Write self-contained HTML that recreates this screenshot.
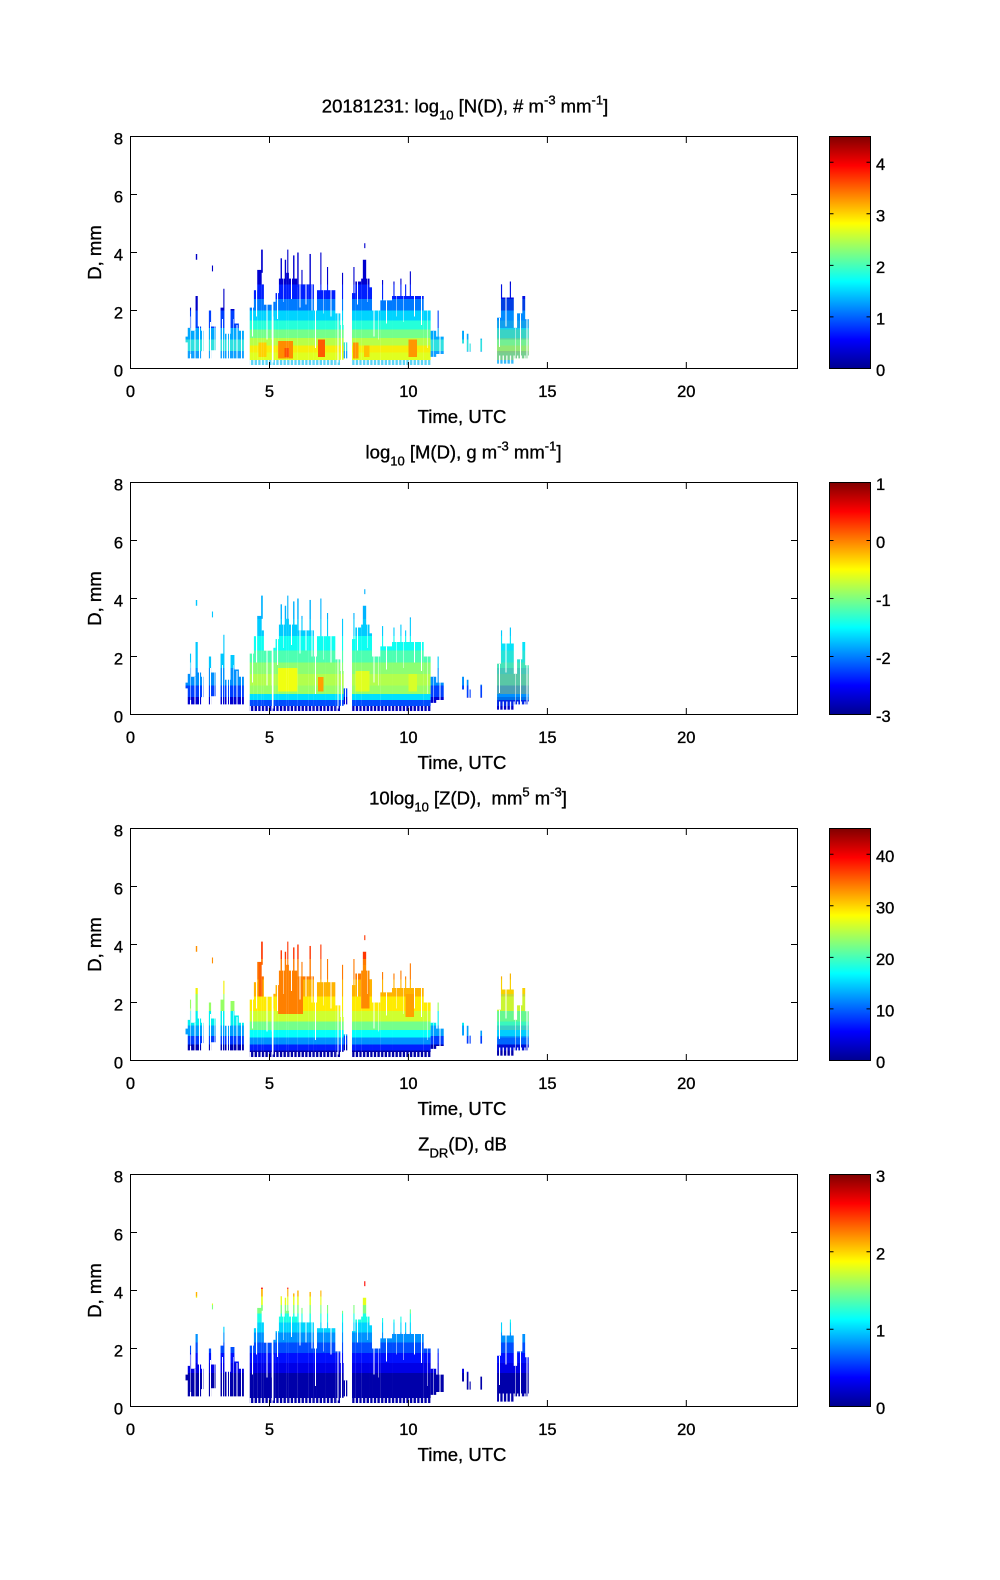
<!DOCTYPE html>
<html>
<head>
<meta charset="utf-8">
<style>
html,body{margin:0;padding:0;background:#fff;}
svg{display:block;}
text{font-family:"Liberation Sans",Arial,sans-serif;fill:#000;stroke:#000;stroke-width:0.35px;}
</style>
</head>
<body>
<svg xmlns="http://www.w3.org/2000/svg" width="1000" height="1580" viewBox="0 0 1000 1580">
<defs>
<linearGradient id="jet" x1="0" y1="1" x2="0" y2="0">
<stop offset="0" stop-color="#00008f"/>
<stop offset="0.125" stop-color="#0000ff"/>
<stop offset="0.375" stop-color="#00ffff"/>
<stop offset="0.625" stop-color="#ffff00"/>
<stop offset="0.875" stop-color="#ff0000"/>
<stop offset="1" stop-color="#800000"/>
</linearGradient>
<pattern id="stripes" patternUnits="userSpaceOnUse" x="0" y="0" width="0.13" height="8">
<rect x="0" y="0" width="0.045" height="8" fill="#fff"/>
</pattern>

<clipPath id="cb">
<rect x="4.29" y="5.9" width="0.15" height="1.98"/>
<rect x="4.44" y="5.3" width="0.12" height="2.58"/>
<rect x="4.56" y="4.6" width="0.16" height="3.28"/>
<rect x="4.70" y="3.9" width="0.06" height="0.8"/>
<rect x="4.72" y="5.1" width="0.08" height="2.78"/>
<rect x="4.80" y="5.8" width="0.28" height="2.08"/>
<rect x="5.08" y="7.0" width="0.06" height="0.88"/>
<rect x="5.14" y="5.7" width="0.08" height="2.18"/>
<rect x="5.22" y="5.4" width="0.12" height="2.48"/>
<rect x="5.34" y="4.9" width="0.26" height="2.98"/>
<rect x="5.40" y="4.2" width="0.05" height="0.8"/>
<rect x="5.55" y="4.25" width="0.05" height="0.75"/>
<rect x="5.60" y="4.7" width="0.10" height="3.18"/>
<rect x="5.64" y="3.9" width="0.04" height="0.9"/>
<rect x="5.70" y="4.9" width="0.30" height="2.98"/>
<rect x="5.85" y="4.1" width="0.05" height="0.9"/>
<rect x="6.00" y="5.1" width="0.40" height="2.78"/>
<rect x="6.00" y="4.0" width="0.05" height="1.2"/>
<rect x="6.15" y="4.6" width="0.04" height="0.6"/>
<rect x="6.40" y="5.1" width="0.20" height="2.78"/>
<rect x="6.44" y="4.05" width="0.05" height="1.15"/>
<rect x="6.60" y="6.0" width="0.11" height="1.88"/>
<rect x="6.71" y="5.3" width="0.29" height="2.58"/>
<rect x="6.83" y="4.0" width="0.04" height="1.4"/>
<rect x="7.00" y="5.3" width="0.37" height="2.58"/>
<rect x="7.07" y="4.5" width="0.04" height="0.9"/>
<rect x="7.37" y="6.1" width="0.18" height="1.78"/>
<rect x="7.55" y="6.5" width="0.12" height="1.2"/>
<rect x="7.61" y="4.7" width="0.04" height="1.9"/>
<rect x="7.97" y="5.4" width="0.12" height="2.48"/>
<rect x="8.02" y="4.5" width="0.04" height="1.0"/>
<rect x="8.09" y="5.0" width="0.21" height="2.88"/>
<rect x="8.30" y="4.9" width="0.30" height="2.98"/>
<rect x="8.36" y="4.25" width="0.12" height="0.75"/>
<rect x="8.41" y="3.68" width="0.04" height="0.17"/>
<rect x="8.60" y="5.2" width="0.09" height="2.68"/>
<rect x="8.69" y="6.0" width="0.30" height="1.88"/>
<rect x="8.99" y="5.65" width="0.42" height="2.23"/>
<rect x="9.05" y="4.95" width="0.04" height="0.75"/>
<rect x="9.41" y="5.5" width="1.14" height="2.38"/>
<rect x="9.46" y="5.0" width="0.04" height="0.6"/>
<rect x="9.71" y="4.9" width="0.04" height="0.7"/>
<rect x="9.88" y="5.1" width="0.04" height="0.5"/>
<rect x="10.05" y="4.65" width="0.04" height="0.95"/>
<rect x="10.55" y="6.0" width="0.25" height="1.88"/>
</clipPath>

<clipPath id="cm">
<rect x="13.19" y="6.25" width="0.14" height="1.58"/>
<rect x="13.33" y="5.1" width="0.04" height="2.73"/>
<rect x="13.37" y="5.55" width="0.42" height="2.28"/>
<rect x="13.65" y="5.0" width="0.04" height="0.6"/>
<rect x="13.79" y="6.6" width="0.12" height="1.05"/>
<rect x="13.91" y="6.1" width="0.19" height="1.55"/>
<rect x="14.10" y="5.5" width="0.10" height="2.15"/>
<rect x="14.20" y="6.3" width="0.13" height="1.35"/>
</clipPath>

<clipPath id="cs">
<rect x="1.98" y="6.9" width="0.08" height="0.2"/>
<rect x="2.06" y="6.6" width="0.08" height="1.05"/>
<rect x="2.14" y="5.9" width="0.04" height="1.6"/>
<rect x="2.18" y="6.7" width="0.16" height="0.95"/>
<rect x="2.34" y="5.5" width="0.08" height="2.15"/>
<rect x="2.42" y="6.55" width="0.12" height="1.1"/>
<rect x="2.54" y="6.7" width="0.10" height="0.7"/>
<rect x="2.35" y="4.05" width="0.05" height="0.2"/>
<rect x="2.82" y="6.0" width="0.08" height="1.65"/>
<rect x="2.90" y="6.55" width="0.16" height="0.82"/>
<rect x="2.93" y="4.45" width="0.04" height="0.2"/>
<rect x="3.24" y="5.9" width="0.10" height="1.75"/>
<rect x="3.34" y="5.25" width="0.04" height="2.4"/>
<rect x="3.40" y="6.8" width="0.20" height="0.85"/>
<rect x="3.60" y="5.95" width="0.14" height="1.7"/>
<rect x="3.74" y="6.45" width="0.16" height="1.2"/>
<rect x="3.90" y="6.7" width="0.18" height="0.95"/>
<rect x="7.67" y="7.1" width="0.13" height="0.55"/>
<rect x="10.80" y="6.7" width="0.20" height="0.9"/>
<rect x="11.00" y="6.9" width="0.27" height="0.6"/>
<rect x="11.05" y="6.0" width="0.04" height="0.9"/>
<rect x="11.93" y="6.7" width="0.07" height="0.44"/>
<rect x="12.10" y="6.8" width="0.06" height="0.62"/>
<rect x="12.20" y="7.14" width="0.04" height="0.28"/>
<rect x="12.59" y="6.97" width="0.06" height="0.45"/>
</clipPath>

<g id="gaps" fill="#fff">
<rect x="4.29" y="7.7" width="6.6" height="0.2" fill="url(#stripes)"/>
<rect x="13.19" y="7.55" width="1.2" height="0.3" fill="url(#stripes)"/>
<rect x="2.15" y="6.2" width="0.03" height="1.5"/>
<rect x="2.30" y="6.7" width="0.03" height="1.0"/>
<rect x="2.47" y="6.5" width="0.03" height="1.2"/>
<rect x="2.58" y="6.6" width="0.04" height="1.1"/>
<rect x="2.86" y="6.4" width="0.03" height="1.3"/>
<rect x="3.00" y="6.5" width="0.03" height="1.2"/>
<rect x="3.30" y="6.3" width="0.03" height="1.4"/>
<rect x="3.46" y="6.7" width="0.04" height="1.0"/>
<rect x="3.55" y="6.7" width="0.03" height="1.0"/>
<rect x="3.68" y="6.3" width="0.03" height="1.4"/>
<rect x="3.82" y="6.5" width="0.03" height="1.2"/>
<rect x="3.97" y="6.6" width="0.04" height="1.1"/>
<rect x="4.38" y="5.9" width="0.03" height="1.0"/>
<rect x="4.52" y="5.3" width="0.03" height="0.9"/>
<rect x="4.90" y="5.8" width="0.03" height="1.2"/>
<rect x="5.10" y="6.2" width="0.05" height="1.6"/>
<rect x="5.27" y="5.4" width="0.03" height="0.9"/>
<rect x="5.48" y="4.9" width="0.03" height="0.8"/>
<rect x="5.78" y="4.9" width="0.03" height="0.7"/>
<rect x="6.08" y="5.1" width="0.03" height="0.8"/>
<rect x="6.30" y="5.1" width="0.03" height="0.7"/>
<rect x="6.52" y="5.1" width="0.03" height="0.9"/>
<rect x="6.63" y="6.0" width="0.05" height="1.3"/>
<rect x="6.92" y="5.3" width="0.03" height="0.8"/>
<rect x="7.20" y="5.3" width="0.03" height="0.9"/>
<rect x="7.45" y="6.1" width="0.03" height="1.7"/>
<rect x="7.58" y="6.5" width="0.03" height="1.3"/>
<rect x="7.72" y="7.1" width="0.03" height="0.8"/>
<rect x="8.15" y="5.0" width="0.03" height="0.8"/>
<rect x="8.52" y="4.9" width="0.03" height="0.8"/>
<rect x="8.75" y="6.0" width="0.03" height="0.9"/>
<rect x="8.90" y="6.0" width="0.03" height="1.0"/>
<rect x="9.20" y="5.65" width="0.03" height="0.8"/>
<rect x="9.55" y="5.5" width="0.03" height="0.7"/>
<rect x="9.80" y="5.5" width="0.03" height="0.9"/>
<rect x="10.20" y="5.5" width="0.03" height="0.7"/>
<rect x="10.45" y="5.5" width="0.03" height="1.0"/>
<rect x="10.68" y="6.0" width="0.03" height="1.3"/>
<rect x="10.88" y="6.7" width="0.03" height="1.0"/>
<rect x="11.12" y="6.9" width="0.04" height="0.8"/>
<rect x="13.26" y="6.25" width="0.03" height="1.0"/>
<rect x="13.50" y="5.55" width="0.03" height="1.0"/>
<rect x="13.85" y="6.6" width="0.03" height="1.2"/>
<rect x="14.02" y="6.1" width="0.03" height="1.7"/>
<rect x="14.25" y="6.3" width="0.03" height="1.5"/>
</g>

<g id="p1b">
<rect x="0" y="7.7" width="24" height="0.3" fill="#5cd6f5"/>
<rect x="0" y="7.45" width="24" height="0.25" fill="#e0ff20"/>
<rect x="0" y="7.2" width="24" height="0.25" fill="#f5f00a"/>
<rect x="0" y="6.95" width="24" height="0.25" fill="#b8ff47"/>
<rect x="0" y="6.65" width="24" height="0.3" fill="#74ff8b"/>
<rect x="0" y="6.35" width="24" height="0.3" fill="#25ffda"/>
<rect x="0" y="6.0" width="24" height="0.35" fill="#00d4ff"/>
<rect x="0" y="5.6" width="24" height="0.4" fill="#007aff"/>
<rect x="0" y="5.1" width="24" height="0.5" fill="#001fff"/>
<rect x="0" y="3.0" width="24" height="2.1" fill="#0000cf"/>
<rect x="5.30" y="7.05" width="0.55" height="0.6" fill="#ff8c00"/>
<rect x="5.55" y="7.3" width="0.15" height="0.3" fill="#ff5000"/>
<rect x="6.75" y="7.0" width="0.25" height="0.6" fill="#ff5a00"/>
<rect x="8.0" y="7.1" width="0.2" height="0.55" fill="#ff9600"/>
<rect x="8.4" y="7.2" width="0.2" height="0.4" fill="#ffc000"/>
<rect x="10.0" y="7.0" width="0.3" height="0.6" fill="#ff9600"/>
<rect x="4.6" y="7.1" width="0.3" height="0.5" fill="#ffd000"/>
</g>
<g id="p1s">
<rect x="0" y="7.4" width="24" height="0.6" fill="#10a0ff"/>
<rect x="0" y="7.0" width="24" height="0.4" fill="#30e0e0"/>
<rect x="0" y="6.6" width="24" height="0.4" fill="#00a8ff"/>
<rect x="0" y="6.0" width="24" height="0.6" fill="#0040ff"/>
<rect x="0" y="3.0" width="24" height="3.0" fill="#0000c8"/>
</g>

<g id="p2b">
<rect x="0" y="7.7" width="24" height="0.3" fill="#0000bf"/>
<rect x="0" y="7.5" width="24" height="0.2" fill="#004dff"/>
<rect x="0" y="7.3" width="24" height="0.2" fill="#00e0ff"/>
<rect x="0" y="7.0" width="24" height="0.3" fill="#99ff66"/>
<rect x="0" y="6.6" width="24" height="0.4" fill="#b2ff4d"/>
<rect x="0" y="6.2" width="24" height="0.4" fill="#8cff73"/>
<rect x="0" y="5.8" width="24" height="0.4" fill="#4dffb2"/>
<rect x="0" y="5.3" width="24" height="0.5" fill="#0dfff2"/>
<rect x="0" y="4.7" width="24" height="0.6" fill="#00ccff"/>
<rect x="0" y="3.0" width="24" height="1.7" fill="#00b3ff"/>
<rect x="5.3" y="6.4" width="0.7" height="0.8" fill="#f0ff10"/>
<rect x="6.75" y="6.7" width="0.2" height="0.5" fill="#ffa000"/>
<rect x="8.1" y="6.5" width="0.5" height="0.7" fill="#e0ff20"/>
<rect x="10.0" y="6.6" width="0.3" height="0.6" fill="#d8ff28"/>
</g>
<g id="p2s">
<rect x="0" y="7.4" width="24" height="0.6" fill="#0000d0"/>
<rect x="0" y="7.0" width="24" height="0.4" fill="#0040ff"/>
<rect x="0" y="6.4" width="24" height="0.6" fill="#0090ff"/>
<rect x="0" y="3.0" width="24" height="3.4" fill="#00c8ff"/>
</g>

<g id="p3b">
<rect x="0" y="7.65" width="24" height="0.35" fill="#0000a8"/>
<rect x="0" y="7.45" width="24" height="0.2" fill="#001fff"/>
<rect x="0" y="7.2" width="24" height="0.25" fill="#0091ff"/>
<rect x="0" y="6.95" width="24" height="0.25" fill="#03fffc"/>
<rect x="0" y="6.65" width="24" height="0.3" fill="#74ff8b"/>
<rect x="0" y="6.3" width="24" height="0.35" fill="#cfff30"/>
<rect x="0" y="5.8" width="24" height="0.5" fill="#ffeb00"/>
<rect x="0" y="5.2" width="24" height="0.6" fill="#ffb300"/>
<rect x="0" y="4.5" width="24" height="0.7" fill="#ff7a00"/>
<rect x="0" y="3.0" width="24" height="1.5" fill="#ff3600"/>
<rect x="5.3" y="4.8" width="0.9" height="1.6" fill="#ff8000"/>
<rect x="4.6" y="4.6" width="0.15" height="1.2" fill="#ff6000"/>
<rect x="8.3" y="4.7" width="0.3" height="1.5" fill="#ff8a00"/>
<rect x="9.9" y="5.7" width="0.3" height="0.8" fill="#ffa000"/>
</g>
<g id="p3s">
<rect x="0" y="7.45" width="24" height="0.55" fill="#0000b0"/>
<rect x="0" y="7.15" width="24" height="0.3" fill="#003cff"/>
<rect x="0" y="6.8" width="24" height="0.35" fill="#00a0ff"/>
<rect x="0" y="6.3" width="24" height="0.5" fill="#00f0f0"/>
<rect x="0" y="5.7" width="24" height="0.6" fill="#96ff64"/>
<rect x="0" y="5.0" width="24" height="0.7" fill="#f0f000"/>
<rect x="0" y="3.0" width="24" height="2.0" fill="#ff9000"/>
</g>

<g id="p4b">
<rect x="0" y="6.85" width="24" height="1.15" fill="#0000aa"/>
<rect x="0" y="6.5" width="24" height="0.35" fill="#0000e6"/>
<rect x="0" y="6.15" width="24" height="0.35" fill="#000fff"/>
<rect x="0" y="5.8" width="24" height="0.35" fill="#004dff"/>
<rect x="0" y="5.45" width="24" height="0.35" fill="#0091ff"/>
<rect x="0" y="5.1" width="24" height="0.35" fill="#00d4ff"/>
<rect x="0" y="4.8" width="24" height="0.3" fill="#1affe6"/>
<rect x="0" y="4.5" width="24" height="0.3" fill="#80ff80"/>
<rect x="0" y="4.2" width="24" height="0.3" fill="#e6ff1a"/>
<rect x="0" y="3.95" width="24" height="0.25" fill="#ffb300"/>
<rect x="0" y="3.0" width="24" height="0.95" fill="#ff0800"/>
</g>
</defs>

<rect x="0" y="0" width="1000" height="1580" fill="#fff"/>

<!-- PANEL 1 -->
<g transform="translate(0,136.5)">
<text x="465" y="-24" font-size="18.5" text-anchor="middle">20181231: log<tspan font-size="13" dy="7">10</tspan><tspan dy="-7"> [N(D), # m</tspan><tspan font-size="13" dy="-8">-3</tspan><tspan dy="8"> mm</tspan><tspan font-size="13" dy="-8">-1</tspan><tspan dy="8">]</tspan></text>
<svg x="130.5" y="0" width="667" height="232" viewBox="0 0 24 8" preserveAspectRatio="none" shape-rendering="crispEdges">
<g clip-path="url(#cb)"><use href="#p1b"/></g>
<g clip-path="url(#cm)"><use href="#p1b"/><use href="#p1s" opacity="0.5"/></g>
<g clip-path="url(#cs)"><use href="#p1s"/></g>
<use href="#gaps"/>
</svg>
<rect x="130.5" y="0" width="667" height="232" fill="none" stroke="#000" stroke-width="1"/>
<path d="M269.5 232v-6.5M408.4 232v-6.5M547.4 232v-6.5M686.3 232v-6.5M269.5 0v6.5M408.4 0v6.5M547.4 0v6.5M686.3 0v6.5M130.5 58h6.5M130.5 116h6.5M130.5 174h6.5M797.5 58h-6.5M797.5 116h-6.5M797.5 174h-6.5" stroke="#000" stroke-width="1" fill="none"/>
<g font-size="16.5" text-anchor="end">
<text x="123" y="8">8</text><text x="123" y="66">6</text><text x="123" y="124">4</text><text x="123" y="182">2</text><text x="123" y="240">0</text>
</g>
<g font-size="16.5" text-anchor="middle">
<text x="130.5" y="260.5">0</text><text x="269.5" y="260.5">5</text><text x="408.4" y="260.5">10</text><text x="547.4" y="260.5">15</text><text x="686.3" y="260.5">20</text>
</g>
<text x="462" y="286.5" font-size="18.5" text-anchor="middle">Time, UTC</text>
<text x="101" y="116" font-size="18.5" text-anchor="middle" transform="rotate(-90 101 116)">D, mm</text>
<rect x="829.5" y="0" width="41" height="232" fill="url(#jet)" stroke="#000" stroke-width="1"/>
<path d="M829.5 180.4h4M829.5 128.9h4M829.5 77.3h4M829.5 25.8h4M870.5 180.4h-4M870.5 128.9h-4M870.5 77.3h-4M870.5 25.8h-4" stroke="#000" stroke-width="1"/>
<g font-size="16.5">
<text x="876" y="239.5">0</text><text x="876" y="187.9">1</text><text x="876" y="136.4">2</text><text x="876" y="84.8">3</text><text x="876" y="33.3">4</text>
</g>
</g>

<!-- PANEL 2 -->
<g transform="translate(0,482.5)">
<text x="463.5" y="-24" font-size="18.5" text-anchor="middle">log<tspan font-size="13" dy="7">10</tspan><tspan dy="-7"> [M(D), g m</tspan><tspan font-size="13" dy="-8">-3</tspan><tspan dy="8"> mm</tspan><tspan font-size="13" dy="-8">-1</tspan><tspan dy="8">]</tspan></text>
<svg x="130.5" y="0" width="667" height="232" viewBox="0 0 24 8" preserveAspectRatio="none" shape-rendering="crispEdges">
<g clip-path="url(#cb)"><use href="#p2b"/></g>
<g clip-path="url(#cm)"><use href="#p2b"/><use href="#p2s" opacity="0.5"/></g>
<g clip-path="url(#cs)"><use href="#p2s"/></g>
<use href="#gaps"/>
</svg>
<rect x="130.5" y="0" width="667" height="232" fill="none" stroke="#000" stroke-width="1"/>
<path d="M269.5 232v-6.5M408.4 232v-6.5M547.4 232v-6.5M686.3 232v-6.5M269.5 0v6.5M408.4 0v6.5M547.4 0v6.5M686.3 0v6.5M130.5 58h6.5M130.5 116h6.5M130.5 174h6.5M797.5 58h-6.5M797.5 116h-6.5M797.5 174h-6.5" stroke="#000" stroke-width="1" fill="none"/>
<g font-size="16.5" text-anchor="end">
<text x="123" y="8">8</text><text x="123" y="66">6</text><text x="123" y="124">4</text><text x="123" y="182">2</text><text x="123" y="240">0</text>
</g>
<g font-size="16.5" text-anchor="middle">
<text x="130.5" y="260.5">0</text><text x="269.5" y="260.5">5</text><text x="408.4" y="260.5">10</text><text x="547.4" y="260.5">15</text><text x="686.3" y="260.5">20</text>
</g>
<text x="462" y="286.5" font-size="18.5" text-anchor="middle">Time, UTC</text>
<text x="101" y="116" font-size="18.5" text-anchor="middle" transform="rotate(-90 101 116)">D, mm</text>
<rect x="829.5" y="0" width="41" height="232" fill="url(#jet)" stroke="#000" stroke-width="1"/>
<path d="M829.5 174h4M829.5 116h4M829.5 58h4M870.5 174h-4M870.5 116h-4M870.5 58h-4" stroke="#000" stroke-width="1"/>
<g font-size="16.5">
<text x="876" y="239.5">-3</text><text x="876" y="181.5">-2</text><text x="876" y="123.5">-1</text><text x="876" y="65.5">0</text><text x="876" y="7.5">1</text>
</g>
</g>

<!-- PANEL 3 -->
<g transform="translate(0,828.5)">
<text x="468" y="-24" font-size="18.5" text-anchor="middle">10log<tspan font-size="13" dy="7">10</tspan><tspan dy="-7"> [Z(D), &#160;mm</tspan><tspan font-size="13" dy="-8">5</tspan><tspan dy="8"> m</tspan><tspan font-size="13" dy="-8">-3</tspan><tspan dy="8">]</tspan></text>
<svg x="130.5" y="0" width="667" height="232" viewBox="0 0 24 8" preserveAspectRatio="none" shape-rendering="crispEdges">
<g clip-path="url(#cb)"><use href="#p3b"/></g>
<g clip-path="url(#cm)"><use href="#p3b"/><use href="#p3s" opacity="0.5"/></g>
<g clip-path="url(#cs)"><use href="#p3s"/></g>
<use href="#gaps"/>
</svg>
<rect x="130.5" y="0" width="667" height="232" fill="none" stroke="#000" stroke-width="1"/>
<path d="M269.5 232v-6.5M408.4 232v-6.5M547.4 232v-6.5M686.3 232v-6.5M269.5 0v6.5M408.4 0v6.5M547.4 0v6.5M686.3 0v6.5M130.5 58h6.5M130.5 116h6.5M130.5 174h6.5M797.5 58h-6.5M797.5 116h-6.5M797.5 174h-6.5" stroke="#000" stroke-width="1" fill="none"/>
<g font-size="16.5" text-anchor="end">
<text x="123" y="8">8</text><text x="123" y="66">6</text><text x="123" y="124">4</text><text x="123" y="182">2</text><text x="123" y="240">0</text>
</g>
<g font-size="16.5" text-anchor="middle">
<text x="130.5" y="260.5">0</text><text x="269.5" y="260.5">5</text><text x="408.4" y="260.5">10</text><text x="547.4" y="260.5">15</text><text x="686.3" y="260.5">20</text>
</g>
<text x="462" y="286.5" font-size="18.5" text-anchor="middle">Time, UTC</text>
<text x="101" y="116" font-size="18.5" text-anchor="middle" transform="rotate(-90 101 116)">D, mm</text>
<rect x="829.5" y="0" width="41" height="232" fill="url(#jet)" stroke="#000" stroke-width="1"/>
<path d="M829.5 180.4h4M829.5 128.9h4M829.5 77.3h4M829.5 25.8h4M870.5 180.4h-4M870.5 128.9h-4M870.5 77.3h-4M870.5 25.8h-4" stroke="#000" stroke-width="1"/>
<g font-size="16.5">
<text x="876" y="239.5">0</text><text x="876" y="187.9">10</text><text x="876" y="136.4">20</text><text x="876" y="84.8">30</text><text x="876" y="33.3">40</text>
</g>
</g>

<!-- PANEL 4 -->
<g transform="translate(0,1174.5)">
<text x="462.5" y="-24" font-size="18.5" text-anchor="middle">Z<tspan font-size="13" dy="7">DR</tspan><tspan dy="-7">(D), dB</tspan></text>
<svg x="130.5" y="0" width="667" height="232" viewBox="0 0 24 8" preserveAspectRatio="none" shape-rendering="crispEdges">
<g clip-path="url(#cb)"><use href="#p4b"/></g>
<g clip-path="url(#cm)"><use href="#p4b"/></g>
<g clip-path="url(#cs)"><use href="#p4b"/></g>
<use href="#gaps"/>
</svg>
<rect x="130.5" y="0" width="667" height="232" fill="none" stroke="#000" stroke-width="1"/>
<path d="M269.5 232v-6.5M408.4 232v-6.5M547.4 232v-6.5M686.3 232v-6.5M269.5 0v6.5M408.4 0v6.5M547.4 0v6.5M686.3 0v6.5M130.5 58h6.5M130.5 116h6.5M130.5 174h6.5M797.5 58h-6.5M797.5 116h-6.5M797.5 174h-6.5" stroke="#000" stroke-width="1" fill="none"/>
<g font-size="16.5" text-anchor="end">
<text x="123" y="8">8</text><text x="123" y="66">6</text><text x="123" y="124">4</text><text x="123" y="182">2</text><text x="123" y="240">0</text>
</g>
<g font-size="16.5" text-anchor="middle">
<text x="130.5" y="260.5">0</text><text x="269.5" y="260.5">5</text><text x="408.4" y="260.5">10</text><text x="547.4" y="260.5">15</text><text x="686.3" y="260.5">20</text>
</g>
<text x="462" y="286.5" font-size="18.5" text-anchor="middle">Time, UTC</text>
<text x="101" y="116" font-size="18.5" text-anchor="middle" transform="rotate(-90 101 116)">D, mm</text>
<rect x="829.5" y="0" width="41" height="232" fill="url(#jet)" stroke="#000" stroke-width="1"/>
<path d="M829.5 154.7h4M829.5 77.3h4M870.5 154.7h-4M870.5 77.3h-4" stroke="#000" stroke-width="1"/>
<g font-size="16.5">
<text x="876" y="239.5">0</text><text x="876" y="162.2">1</text><text x="876" y="84.8">2</text><text x="876" y="7.5">3</text>
</g>
</g>
</svg>
</body>
</html>
